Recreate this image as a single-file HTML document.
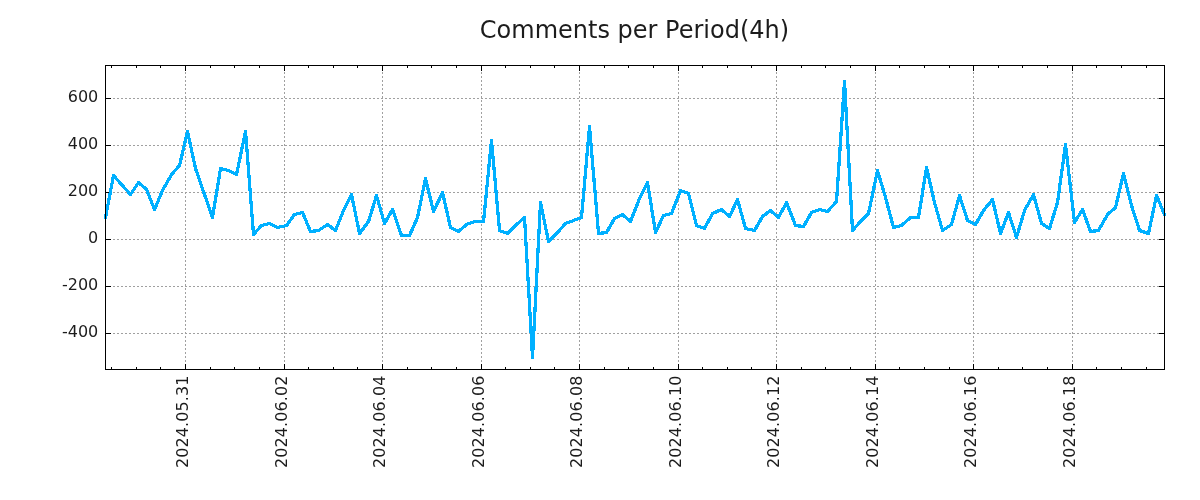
<!DOCTYPE html>
<html lang="en"><head><meta charset="utf-8"><title>Comments per Period(4h)</title>
<style>html,body{margin:0;padding:0;background:#fff}body{width:1200px;height:500px;overflow:hidden}svg{display:block}text{font-family:"DejaVu Sans","Liberation Sans",sans-serif;fill:#1c1c1c}.t{font-size:24px}.l{font-size:16px}</style></head><body>
<svg width="1200" height="500" viewBox="0 0 1200 500">
<rect width="1200" height="500" fill="#fff"/>
<g stroke="#a0a0a0" stroke-width="1" stroke-dasharray="2 2" shape-rendering="crispEdges" fill="none">
<line x1="105" y1="98.5" x2="1165" y2="98.5"/>
<line x1="105" y1="145.5" x2="1165" y2="145.5"/>
<line x1="105" y1="192.5" x2="1165" y2="192.5"/>
<line x1="105" y1="239.5" x2="1165" y2="239.5"/>
<line x1="105" y1="286.5" x2="1165" y2="286.5"/>
<line x1="105" y1="333.5" x2="1165" y2="333.5"/>
<line x1="185.5" y1="370" x2="185.5" y2="65"/>
<line x1="284.5" y1="370" x2="284.5" y2="65"/>
<line x1="382.5" y1="370" x2="382.5" y2="65"/>
<line x1="481.5" y1="370" x2="481.5" y2="65"/>
<line x1="579.5" y1="370" x2="579.5" y2="65"/>
<line x1="678.5" y1="370" x2="678.5" y2="65"/>
<line x1="776.5" y1="370" x2="776.5" y2="65"/>
<line x1="875.5" y1="370" x2="875.5" y2="65"/>
<line x1="973.5" y1="370" x2="973.5" y2="65"/>
<line x1="1072.5" y1="370" x2="1072.5" y2="65"/>
</g>
<g fill="#000" shape-rendering="crispEdges">
<rect x="185" y="364" width="1" height="5"/>
<rect x="185" y="66" width="1" height="5"/>
<rect x="284" y="364" width="1" height="5"/>
<rect x="284" y="66" width="1" height="5"/>
<rect x="382" y="364" width="1" height="5"/>
<rect x="382" y="66" width="1" height="5"/>
<rect x="481" y="364" width="1" height="5"/>
<rect x="481" y="66" width="1" height="5"/>
<rect x="579" y="364" width="1" height="5"/>
<rect x="579" y="66" width="1" height="5"/>
<rect x="678" y="364" width="1" height="5"/>
<rect x="678" y="66" width="1" height="5"/>
<rect x="776" y="364" width="1" height="5"/>
<rect x="776" y="66" width="1" height="5"/>
<rect x="875" y="364" width="1" height="5"/>
<rect x="875" y="66" width="1" height="5"/>
<rect x="973" y="364" width="1" height="5"/>
<rect x="973" y="66" width="1" height="5"/>
<rect x="1072" y="364" width="1" height="5"/>
<rect x="1072" y="66" width="1" height="5"/>
<rect x="111" y="367" width="1" height="2"/>
<rect x="111" y="66" width="1" height="2"/>
<rect x="136" y="367" width="1" height="2"/>
<rect x="136" y="66" width="1" height="2"/>
<rect x="160" y="367" width="1" height="2"/>
<rect x="160" y="66" width="1" height="2"/>
<rect x="210" y="367" width="1" height="2"/>
<rect x="210" y="66" width="1" height="2"/>
<rect x="234" y="367" width="1" height="2"/>
<rect x="234" y="66" width="1" height="2"/>
<rect x="259" y="367" width="1" height="2"/>
<rect x="259" y="66" width="1" height="2"/>
<rect x="308" y="367" width="1" height="2"/>
<rect x="308" y="66" width="1" height="2"/>
<rect x="333" y="367" width="1" height="2"/>
<rect x="333" y="66" width="1" height="2"/>
<rect x="357" y="367" width="1" height="2"/>
<rect x="357" y="66" width="1" height="2"/>
<rect x="407" y="367" width="1" height="2"/>
<rect x="407" y="66" width="1" height="2"/>
<rect x="431" y="367" width="1" height="2"/>
<rect x="431" y="66" width="1" height="2"/>
<rect x="456" y="367" width="1" height="2"/>
<rect x="456" y="66" width="1" height="2"/>
<rect x="505" y="367" width="1" height="2"/>
<rect x="505" y="66" width="1" height="2"/>
<rect x="530" y="367" width="1" height="2"/>
<rect x="530" y="66" width="1" height="2"/>
<rect x="554" y="367" width="1" height="2"/>
<rect x="554" y="66" width="1" height="2"/>
<rect x="604" y="367" width="1" height="2"/>
<rect x="604" y="66" width="1" height="2"/>
<rect x="628" y="367" width="1" height="2"/>
<rect x="628" y="66" width="1" height="2"/>
<rect x="653" y="367" width="1" height="2"/>
<rect x="653" y="66" width="1" height="2"/>
<rect x="702" y="367" width="1" height="2"/>
<rect x="702" y="66" width="1" height="2"/>
<rect x="727" y="367" width="1" height="2"/>
<rect x="727" y="66" width="1" height="2"/>
<rect x="751" y="367" width="1" height="2"/>
<rect x="751" y="66" width="1" height="2"/>
<rect x="801" y="367" width="1" height="2"/>
<rect x="801" y="66" width="1" height="2"/>
<rect x="825" y="367" width="1" height="2"/>
<rect x="825" y="66" width="1" height="2"/>
<rect x="850" y="367" width="1" height="2"/>
<rect x="850" y="66" width="1" height="2"/>
<rect x="899" y="367" width="1" height="2"/>
<rect x="899" y="66" width="1" height="2"/>
<rect x="924" y="367" width="1" height="2"/>
<rect x="924" y="66" width="1" height="2"/>
<rect x="949" y="367" width="1" height="2"/>
<rect x="949" y="66" width="1" height="2"/>
<rect x="998" y="367" width="1" height="2"/>
<rect x="998" y="66" width="1" height="2"/>
<rect x="1022" y="367" width="1" height="2"/>
<rect x="1022" y="66" width="1" height="2"/>
<rect x="1047" y="367" width="1" height="2"/>
<rect x="1047" y="66" width="1" height="2"/>
<rect x="1096" y="367" width="1" height="2"/>
<rect x="1096" y="66" width="1" height="2"/>
<rect x="1121" y="367" width="1" height="2"/>
<rect x="1121" y="66" width="1" height="2"/>
<rect x="1146" y="367" width="1" height="2"/>
<rect x="1146" y="66" width="1" height="2"/>
<rect x="106" y="98" width="5" height="1"/>
<rect x="1159" y="98" width="5" height="1"/>
<rect x="106" y="145" width="5" height="1"/>
<rect x="1159" y="145" width="5" height="1"/>
<rect x="106" y="192" width="5" height="1"/>
<rect x="1159" y="192" width="5" height="1"/>
<rect x="106" y="239" width="5" height="1"/>
<rect x="1159" y="239" width="5" height="1"/>
<rect x="106" y="286" width="5" height="1"/>
<rect x="1159" y="286" width="5" height="1"/>
<rect x="106" y="333" width="5" height="1"/>
<rect x="1159" y="333" width="5" height="1"/>
</g>
<g transform="translate(0,0.5)"><path fill="none" stroke="#00b0ff" stroke-width="1" shape-rendering="crispEdges" d="M843 80h3M843 81h3M843 82h3M843 83h3M843 84h3M843 85h3M843 86h3M842 87h4M842 88h5M842 89h5M842 90h5M842 91h5M842 92h5M842 93h5M842 94h5M842 95h5M842 96h5M842 97h5M842 98h5M842 99h5M842 100h5M842 101h5M841 102h6M841 103h6M841 104h6M841 105h6M841 106h6M841 107h7M841 108h7M841 109h7M841 110h7M841 111h7M841 112h3M845 112h3M841 113h3M845 113h3M841 114h3M845 114h3M841 115h3M845 115h3M841 116h3M845 116h3M840 117h4M845 117h3M840 118h4M845 118h3M840 119h4M845 119h3M840 120h4M845 120h3M840 121h3M845 121h3M840 122h3M845 122h3M840 123h3M845 123h3M840 124h3M845 124h3M588 125h3M840 125h3M845 125h3M588 126h3M840 126h3M845 126h4M588 127h3M840 127h3M845 127h4M588 128h3M840 128h3M845 128h4M588 129h3M840 129h3M845 129h4M186 130h3M244 130h3M588 130h3M840 130h3M846 130h3M186 131h3M244 131h3M587 131h5M840 131h3M846 131h3M186 132h3M244 132h3M587 132h5M839 132h4M846 132h3M185 133h5M243 133h4M587 133h5M839 133h4M846 133h3M185 134h5M243 134h4M587 134h5M839 134h4M846 134h3M185 135h5M243 135h4M587 135h5M839 135h4M846 135h3M185 136h5M243 136h5M587 136h5M839 136h3M846 136h3M184 137h6M243 137h5M587 137h5M839 137h3M846 137h3M184 138h7M242 138h6M587 138h5M839 138h3M846 138h3M184 139h3M188 139h3M242 139h6M490 139h3M587 139h5M839 139h3M846 139h3M184 140h3M188 140h3M242 140h6M490 140h3M587 140h5M839 140h3M846 140h3M183 141h4M188 141h3M242 141h6M490 141h3M587 141h5M839 141h3M846 141h3M183 142h4M188 142h4M242 142h6M490 142h3M586 142h6M839 142h3M846 142h3M183 143h3M188 143h4M241 143h7M490 143h3M586 143h7M839 143h3M846 143h3M1064 143h3M183 144h3M189 144h3M241 144h3M245 144h3M489 144h4M586 144h7M839 144h3M846 144h4M1064 144h3M183 145h3M189 145h3M241 145h3M245 145h3M489 145h5M586 145h7M839 145h3M846 145h4M1064 145h3M182 146h4M189 146h3M241 146h3M245 146h3M489 146h5M586 146h3M590 146h3M839 146h3M846 146h4M1064 146h3M182 147h3M189 147h4M240 147h4M245 147h3M489 147h5M586 147h3M590 147h3M838 147h4M846 147h4M1063 147h4M182 148h3M190 148h3M240 148h4M245 148h3M489 148h5M586 148h3M590 148h3M838 148h4M846 148h4M1063 148h5M182 149h3M190 149h3M240 149h3M245 149h4M489 149h5M586 149h3M590 149h3M838 149h4M847 149h3M1063 149h5M181 150h4M190 150h3M240 150h3M245 150h4M489 150h5M586 150h3M590 150h3M838 150h4M847 150h3M1063 150h5M181 151h3M190 151h3M240 151h3M245 151h4M489 151h5M586 151h3M590 151h3M838 151h3M847 151h3M1063 151h5M181 152h3M190 152h4M239 152h4M246 152h3M489 152h5M586 152h3M590 152h3M838 152h3M847 152h3M1063 152h5M181 153h3M191 153h3M239 153h4M246 153h3M489 153h5M585 153h4M590 153h3M838 153h3M847 153h3M1063 153h5M180 154h4M191 154h3M239 154h3M246 154h3M488 154h6M585 154h4M590 154h3M838 154h3M847 154h3M1062 154h6M180 155h4M191 155h3M239 155h3M246 155h3M488 155h6M585 155h4M590 155h4M838 155h3M847 155h3M1062 155h6M180 156h3M191 156h4M239 156h3M246 156h3M488 156h7M585 156h3M590 156h4M838 156h3M847 156h3M1062 156h7M180 157h3M191 157h4M238 157h4M246 157h3M488 157h7M585 157h3M590 157h4M838 157h3M847 157h3M1062 157h7M179 158h4M192 158h3M238 158h4M246 158h3M488 158h7M585 158h3M591 158h3M838 158h3M847 158h3M1062 158h7M179 159h4M192 159h3M238 159h3M246 159h3M488 159h3M492 159h3M585 159h3M591 159h3M838 159h3M847 159h3M1062 159h3M1066 159h3M179 160h3M192 160h3M238 160h3M246 160h3M488 160h3M492 160h3M585 160h3M591 160h3M838 160h3M847 160h3M1062 160h3M1066 160h3M179 161h3M192 161h4M238 161h3M246 161h3M488 161h3M492 161h3M585 161h3M591 161h3M838 161h3M847 161h3M1062 161h3M1066 161h3M179 162h3M193 162h3M237 162h4M246 162h4M488 162h3M492 162h3M585 162h3M591 162h3M837 162h4M847 162h3M1061 162h4M1066 162h3M178 163h4M193 163h3M237 163h3M246 163h4M488 163h3M492 163h3M585 163h3M591 163h3M837 163h4M847 163h4M1061 163h4M1066 163h3M178 164h3M193 164h3M237 164h3M246 164h4M487 164h4M492 164h3M585 164h3M591 164h3M837 164h4M847 164h4M1061 164h3M1066 164h3M177 165h4M193 165h4M237 165h3M247 165h3M487 165h4M492 165h3M584 165h4M591 165h3M837 165h4M847 165h4M1061 165h3M1066 165h4M176 166h5M193 166h4M237 166h3M247 166h3M487 166h4M492 166h3M584 166h4M591 166h3M837 166h3M847 166h4M925 166h3M1061 166h3M1066 166h4M176 167h4M194 167h3M219 167h4M236 167h4M247 167h3M487 167h3M492 167h4M584 167h4M591 167h4M837 167h3M847 167h4M925 167h3M1061 167h3M1067 167h3M175 168h4M194 168h3M219 168h8M236 168h3M247 168h3M487 168h3M492 168h4M584 168h3M591 168h4M837 168h3M848 168h3M925 168h3M1061 168h3M1067 168h3M174 169h4M194 169h4M219 169h11M236 169h3M247 169h3M487 169h3M492 169h4M584 169h3M591 169h4M837 169h3M848 169h3M876 169h3M925 169h4M1060 169h4M1067 169h3M173 170h4M194 170h4M219 170h13M236 170h3M247 170h3M487 170h3M493 170h3M584 170h3M592 170h3M837 170h3M848 170h3M876 170h3M924 170h5M1060 170h4M1067 170h3M172 171h4M195 171h3M218 171h4M226 171h8M235 171h4M247 171h3M487 171h3M493 171h3M584 171h3M592 171h3M837 171h3M848 171h3M876 171h3M924 171h5M1060 171h3M1067 171h3M171 172h4M195 172h4M218 172h3M229 172h10M247 172h3M487 172h3M493 172h3M584 172h3M592 172h3M837 172h3M848 172h3M875 172h5M924 172h5M1060 172h3M1067 172h3M1122 172h3M170 173h5M196 173h3M218 173h3M231 173h7M247 173h3M487 173h3M493 173h3M584 173h3M592 173h3M837 173h3M848 173h3M875 173h5M924 173h6M1060 173h3M1067 173h3M1122 173h3M112 174h3M170 174h4M196 174h3M218 174h3M233 174h5M247 174h3M487 174h3M493 174h3M584 174h3M592 174h3M837 174h3M848 174h3M875 174h5M924 174h6M1060 174h3M1067 174h4M1122 174h3M112 175h4M169 175h4M196 175h4M218 175h3M235 175h3M247 175h4M486 175h4M493 175h3M584 175h3M592 175h3M837 175h3M848 175h3M875 175h6M924 175h6M1060 175h3M1067 175h4M1121 175h5M112 176h5M169 176h3M197 176h3M218 176h3M247 176h4M486 176h4M493 176h3M583 176h4M592 176h3M837 176h3M848 176h3M875 176h6M923 176h7M1059 176h4M1068 176h3M1121 176h5M111 177h6M168 177h4M197 177h3M217 177h4M247 177h4M424 177h3M486 177h3M493 177h3M583 177h4M592 177h3M836 177h4M848 177h3M874 177h7M923 177h7M1059 177h4M1068 177h3M1121 177h5M111 178h7M167 178h4M197 178h4M217 178h4M248 178h3M424 178h3M486 178h3M493 178h4M583 178h4M592 178h4M836 178h4M848 178h3M874 178h3M878 178h4M923 178h3M927 178h4M1059 178h3M1068 178h3M1121 178h5M111 179h3M115 179h4M167 179h4M198 179h3M217 179h3M248 179h3M424 179h3M486 179h3M493 179h4M583 179h3M592 179h4M836 179h4M848 179h3M874 179h3M878 179h4M923 179h3M928 179h3M1059 179h3M1068 179h3M1120 179h7M111 180h3M116 180h4M166 180h4M198 180h3M217 180h3M248 180h3M423 180h5M486 180h3M493 180h4M583 180h3M592 180h4M836 180h4M848 180h3M874 180h3M879 180h3M923 180h3M928 180h3M1059 180h3M1068 180h3M1120 180h7M111 181h3M117 181h4M137 181h3M166 181h3M198 181h4M217 181h3M248 181h3M423 181h5M486 181h3M494 181h3M583 181h3M592 181h4M646 181h3M836 181h3M848 181h3M874 181h3M879 181h3M923 181h3M928 181h3M1059 181h3M1068 181h3M1120 181h3M1124 181h3M111 182h3M118 182h4M137 182h4M165 182h4M199 182h3M217 182h3M248 182h3M423 182h5M486 182h3M494 182h3M583 182h3M593 182h3M646 182h3M836 182h3M848 182h4M873 182h4M879 182h4M922 182h4M928 182h4M1059 182h3M1068 182h4M1120 182h3M1124 182h3M110 183h4M118 183h5M136 183h6M165 183h3M199 183h3M216 183h4M248 183h3M423 183h5M486 183h3M494 183h3M583 183h3M593 183h3M645 183h4M836 183h3M848 183h4M873 183h3M880 183h3M922 183h4M928 183h4M1058 183h4M1068 183h4M1119 183h4M1124 183h4M110 184h3M119 184h5M135 184h8M164 184h4M199 184h4M216 184h4M248 184h3M423 184h6M486 184h3M494 184h3M583 184h3M593 184h3M645 184h4M836 184h3M848 184h4M873 184h3M880 184h3M922 184h3M929 184h3M1058 184h4M1068 184h4M1119 184h4M1125 184h3M110 185h3M120 185h5M135 185h3M139 185h5M163 185h4M200 185h3M216 185h3M248 185h3M422 185h7M485 185h4M494 185h3M583 185h3M593 185h3M644 185h6M836 185h3M848 185h4M873 185h3M880 185h4M922 185h3M929 185h3M1058 185h3M1069 185h3M1119 185h3M1125 185h3M110 186h3M121 186h4M134 186h4M141 186h5M163 186h4M200 186h3M216 186h3M248 186h3M422 186h7M485 186h4M494 186h3M583 186h3M593 186h3M644 186h6M836 186h3M849 186h3M872 186h4M881 186h3M922 186h3M929 186h4M1058 186h3M1069 186h3M1119 186h3M1125 186h3M110 187h3M122 187h4M133 187h4M142 187h5M162 187h4M200 187h4M216 187h3M248 187h3M422 187h3M426 187h3M485 187h3M494 187h3M583 187h3M593 187h3M643 187h7M836 187h3M849 187h3M872 187h4M881 187h3M922 187h3M929 187h4M1058 187h3M1069 187h3M1119 187h3M1125 187h4M109 188h4M123 188h4M133 188h3M143 188h5M162 188h3M201 188h3M216 188h3M248 188h4M422 188h3M426 188h4M485 188h3M494 188h3M582 188h4M593 188h3M643 188h3M647 188h3M836 188h3M849 188h3M872 188h3M881 188h4M921 188h4M930 188h3M1058 188h3M1069 188h3M1118 188h4M1126 188h3M109 189h3M124 189h4M132 189h4M144 189h4M161 189h4M201 189h3M215 189h4M248 189h4M422 189h3M426 189h4M485 189h3M494 189h3M582 189h4M593 189h3M642 189h4M647 189h3M679 189h3M836 189h3M849 189h3M872 189h3M881 189h4M921 189h4M930 189h3M1058 189h3M1069 189h3M1118 189h3M1126 189h3M109 190h3M125 190h4M131 190h4M145 190h4M161 190h3M201 190h4M215 190h4M248 190h4M421 190h4M427 190h3M485 190h3M494 190h4M582 190h4M593 190h4M642 190h3M647 190h3M679 190h6M836 190h3M849 190h3M872 190h3M882 190h3M921 190h3M930 190h3M1058 190h3M1069 190h3M1118 190h3M1126 190h3M109 191h3M126 191h4M131 191h3M146 191h3M160 191h4M202 191h3M215 191h3M249 191h3M421 191h3M427 191h3M441 191h3M485 191h3M494 191h4M582 191h3M593 191h4M641 191h4M647 191h4M678 191h10M836 191h3M849 191h3M871 191h4M882 191h3M921 191h3M930 191h4M1057 191h4M1069 191h4M1118 191h3M1126 191h4M109 192h3M127 192h7M146 192h3M160 192h3M202 192h4M215 192h3M249 192h3M421 192h3M427 192h4M441 192h3M485 192h3M494 192h4M582 192h3M593 192h4M641 192h3M647 192h4M678 192h12M835 192h4M849 192h3M871 192h4M882 192h4M921 192h3M931 192h3M1057 192h4M1069 192h4M1117 192h4M1127 192h3M108 193h4M127 193h6M146 193h4M159 193h4M202 193h4M215 193h3M249 193h3M350 193h3M421 193h3M427 193h4M440 193h4M485 193h3M495 193h3M582 193h3M594 193h3M640 193h4M648 193h3M678 193h3M684 193h6M835 193h4M849 193h3M871 193h3M883 193h3M921 193h3M931 193h3M1032 193h3M1057 193h3M1070 193h3M1117 193h3M1127 193h3M108 194h4M128 194h4M147 194h3M159 194h4M203 194h3M215 194h3M249 194h3M350 194h3M375 194h3M421 194h3M428 194h3M440 194h5M485 194h3M495 194h3M582 194h3M594 194h3M640 194h3M648 194h3M677 194h4M687 194h3M835 194h4M849 194h3M871 194h3M883 194h3M921 194h3M931 194h3M958 194h3M1032 194h3M1057 194h3M1070 194h3M1117 194h3M1127 194h3M1155 194h3M108 195h3M129 195h3M147 195h4M159 195h3M203 195h4M214 195h4M249 195h3M349 195h4M375 195h3M420 195h4M428 195h3M439 195h6M484 195h4M495 195h3M582 195h3M594 195h3M639 195h4M648 195h3M677 195h3M687 195h4M835 195h4M849 195h3M871 195h3M883 195h4M920 195h4M931 195h4M958 195h3M1031 195h4M1057 195h3M1070 195h3M1117 195h3M1127 195h4M1155 195h3M108 196h3M148 196h3M158 196h4M203 196h4M214 196h4M249 196h3M349 196h5M374 196h4M420 196h3M428 196h4M439 196h6M484 196h4M495 196h3M582 196h3M594 196h3M639 196h3M648 196h3M676 196h4M688 196h3M835 196h3M849 196h3M870 196h4M884 196h3M920 196h4M931 196h4M958 196h4M1031 196h5M1057 196h3M1070 196h3M1116 196h4M1128 196h3M1155 196h4M108 197h3M148 197h3M158 197h3M204 197h3M214 197h3M249 197h3M348 197h6M374 197h5M420 197h3M428 197h4M438 197h7M484 197h4M495 197h3M582 197h3M594 197h3M638 197h4M648 197h4M676 197h4M688 197h3M835 197h3M849 197h3M870 197h4M884 197h3M920 197h3M932 197h3M957 197h5M1030 197h6M1057 197h3M1070 197h3M1116 197h4M1128 197h3M1154 197h5M107 198h4M148 198h4M157 198h4M204 198h4M214 198h3M249 198h3M348 198h6M374 198h5M420 198h3M429 198h3M438 198h3M442 198h4M484 198h3M495 198h3M582 198h3M594 198h3M638 198h3M648 198h4M676 198h3M688 198h3M736 198h3M835 198h3M849 198h3M870 198h3M884 198h3M920 198h3M932 198h3M957 198h5M991 198h3M1029 198h7M1056 198h4M1070 198h3M1116 198h3M1128 198h3M1154 198h6M107 199h4M149 199h3M157 199h3M205 199h3M214 199h3M249 199h3M347 199h7M374 199h5M420 199h3M429 199h3M437 199h4M442 199h4M484 199h3M495 199h3M581 199h4M594 199h3M637 199h4M649 199h3M675 199h4M688 199h4M736 199h3M835 199h3M849 199h3M870 199h3M884 199h4M920 199h3M932 199h3M957 199h5M990 199h4M1029 199h8M1056 199h4M1070 199h3M1116 199h3M1128 199h4M1154 199h6M107 200h3M149 200h4M157 200h3M205 200h3M214 200h3M249 200h3M347 200h3M351 200h3M373 200h7M419 200h4M429 200h4M437 200h4M443 200h3M484 200h3M495 200h3M581 200h4M594 200h3M637 200h3M649 200h3M675 200h3M689 200h3M735 200h4M835 200h3M849 200h4M870 200h3M885 200h3M920 200h3M932 200h4M956 200h7M990 200h4M1028 200h4M1033 200h4M1056 200h3M1070 200h4M1115 200h4M1129 200h3M1154 200h6M107 201h3M150 201h3M156 201h4M205 201h4M213 201h4M249 201h4M346 201h4M351 201h4M373 201h3M377 201h3M419 201h3M429 201h4M436 201h4M443 201h3M484 201h3M495 201h4M539 201h3M581 201h4M594 201h3M637 201h3M649 201h3M674 201h4M689 201h3M735 201h5M785 201h3M834 201h4M849 201h4M869 201h4M885 201h3M919 201h4M933 201h3M956 201h7M989 201h6M1028 201h3M1034 201h3M1056 201h3M1070 201h4M1115 201h4M1129 201h3M1154 201h7M107 202h3M150 202h3M156 202h3M206 202h3M213 202h4M249 202h4M346 202h3M351 202h4M373 202h3M377 202h3M419 202h3M430 202h3M436 202h4M443 202h3M484 202h3M495 202h4M539 202h3M581 202h3M594 202h4M636 202h4M649 202h3M674 202h4M689 202h3M734 202h6M785 202h3M833 202h5M849 202h4M869 202h3M885 202h4M919 202h4M933 202h3M956 202h3M960 202h3M988 202h7M1027 202h4M1034 202h3M1056 202h3M1071 202h3M1115 202h3M1129 202h3M1153 202h4M1158 202h3M107 203h3M150 203h4M155 203h4M206 203h3M213 203h3M249 203h4M345 203h4M352 203h3M372 203h4M377 203h3M419 203h3M430 203h3M435 203h4M443 203h4M484 203h3M495 203h4M539 203h3M581 203h3M594 203h4M636 203h3M649 203h4M674 203h3M689 203h4M734 203h6M784 203h5M833 203h4M849 203h4M869 203h3M885 203h4M919 203h3M933 203h3M956 203h3M960 203h4M987 203h4M992 203h3M1027 203h3M1034 203h4M1055 203h4M1071 203h3M1115 203h3M1129 203h4M1153 203h3M1158 203h4M106 204h4M151 204h3M155 204h3M206 204h4M213 204h3M250 204h3M345 204h3M352 204h3M372 204h3M377 204h4M419 204h3M430 204h3M435 204h4M444 204h3M484 204h3M496 204h3M539 204h4M581 204h3M594 204h4M635 204h4M649 204h4M673 204h4M690 204h3M733 204h8M784 204h5M832 204h4M849 204h4M869 204h3M886 204h3M919 204h3M933 204h4M955 204h4M961 204h3M986 204h5M992 204h3M1026 204h4M1035 204h3M1055 204h4M1071 204h3M1115 204h3M1130 204h3M1153 204h3M1159 204h3M106 205h3M151 205h7M207 205h3M213 205h3M250 205h3M344 205h4M352 205h3M372 205h3M378 205h3M418 205h4M430 205h4M435 205h3M444 205h3M483 205h4M496 205h3M539 205h4M581 205h3M595 205h3M635 205h4M650 205h3M673 205h3M690 205h3M733 205h3M737 205h4M783 205h6M831 205h4M850 205h3M869 205h3M886 205h3M919 205h3M934 205h3M955 205h3M961 205h3M985 205h5M992 205h4M1025 205h4M1035 205h3M1055 205h3M1071 205h3M1114 205h4M1130 205h3M1153 205h3M1159 205h3M106 206h3M152 206h6M207 206h3M213 206h3M250 206h3M344 206h3M352 206h4M371 206h4M378 206h3M418 206h3M431 206h7M444 206h3M483 206h4M496 206h3M539 206h4M581 206h3M595 206h3M635 206h3M650 206h3M672 206h4M690 206h3M732 206h4M738 206h3M783 206h7M830 206h4M850 206h3M868 206h4M886 206h4M919 206h3M934 206h3M955 206h3M961 206h4M985 206h4M992 206h4M1025 206h4M1035 206h3M1055 206h3M1071 206h3M1114 206h3M1130 206h4M1153 206h3M1159 206h4M106 207h3M152 207h5M207 207h4M212 207h4M250 207h3M343 207h4M353 207h3M371 207h4M378 207h4M418 207h3M431 207h6M444 207h4M483 207h4M496 207h3M539 207h4M581 207h3M595 207h3M634 207h4M650 207h3M672 207h4M690 207h4M732 207h4M738 207h3M782 207h4M787 207h3M829 207h4M850 207h3M868 207h3M886 207h4M918 207h4M934 207h4M955 207h3M962 207h3M984 207h4M993 207h3M1024 207h4M1035 207h4M1054 207h4M1071 207h3M1113 207h4M1130 207h4M1152 207h4M1160 207h3M106 208h3M152 208h5M208 208h3M212 208h4M250 208h3M343 208h3M353 208h3M371 208h3M379 208h3M391 208h3M418 208h3M431 208h6M444 208h4M483 208h3M496 208h3M539 208h4M581 208h3M595 208h3M634 208h3M650 208h3M672 208h3M691 208h3M720 208h3M731 208h4M738 208h4M781 208h4M787 208h4M818 208h4M828 208h4M850 208h3M868 208h3M887 208h3M918 208h4M935 208h3M954 208h4M962 208h3M983 208h4M993 208h3M1024 208h3M1036 208h3M1054 208h3M1071 208h4M1081 208h3M1112 208h5M1131 208h3M1152 208h3M1160 208h4M105 209h4M153 209h3M208 209h3M212 209h3M250 209h3M342 209h4M353 209h3M370 209h4M379 209h3M391 209h3M417 209h4M431 209h5M445 209h3M483 209h3M496 209h3M539 209h5M581 209h3M595 209h3M633 209h4M650 209h3M671 209h4M691 209h3M717 209h7M731 209h4M739 209h3M769 209h3M781 209h4M787 209h4M815 209h11M827 209h4M850 209h3M868 209h3M887 209h3M918 209h3M935 209h3M954 209h3M962 209h4M982 209h4M993 209h4M1023 209h4M1036 209h3M1054 209h3M1071 209h4M1081 209h3M1111 209h5M1131 209h3M1152 209h3M1161 209h3M105 210h3M153 210h3M208 210h7M250 210h3M342 210h3M353 210h3M370 210h4M379 210h3M390 210h5M417 210h4M432 210h4M445 210h3M483 210h3M496 210h3M538 210h6M580 210h4M595 210h3M633 210h4M650 210h4M671 210h3M691 210h3M715 210h10M731 210h3M739 210h3M768 210h5M780 210h4M788 210h3M812 210h19M850 210h3M867 210h4M887 210h4M918 210h3M935 210h3M954 210h3M963 210h3M982 210h4M993 210h4M1023 210h3M1036 210h4M1053 210h4M1071 210h4M1080 210h5M1110 210h5M1131 210h4M1152 210h3M1161 210h4M105 211h3M209 211h6M250 211h3M300 211h4M341 211h4M353 211h4M370 211h3M379 211h4M389 211h6M417 211h3M432 211h3M445 211h4M483 211h3M496 211h3M538 211h6M580 211h4M595 211h3M633 211h3M650 211h4M671 211h3M691 211h4M713 211h13M730 211h4M739 211h3M766 211h8M780 211h4M788 211h4M810 211h9M821 211h9M850 211h3M867 211h4M888 211h3M918 211h3M935 211h4M953 211h4M963 211h3M981 211h4M994 211h3M1007 211h3M1023 211h3M1037 211h3M1053 211h3M1072 211h3M1079 211h6M1108 211h5M1132 211h3M1151 211h4M1161 211h4M105 212h3M209 212h6M250 212h3M296 212h8M341 212h3M354 212h3M370 212h3M380 212h3M389 212h6M417 212h3M432 212h3M445 212h4M483 212h3M496 212h4M538 212h6M580 212h4M595 212h3M632 212h4M651 212h3M669 212h5M692 212h3M711 212h8M722 212h5M730 212h3M739 212h4M765 212h10M779 212h4M789 212h3M810 212h6M825 212h4M850 212h3M867 212h3M888 212h3M918 212h3M936 212h3M953 212h3M963 212h4M980 212h4M994 212h3M1007 212h3M1022 212h4M1037 212h3M1053 212h3M1072 212h3M1079 212h6M1107 212h5M1132 212h3M1151 212h4M1162 212h3M105 213h3M209 213h6M250 213h3M293 213h12M341 213h3M354 213h3M369 213h4M380 213h3M388 213h8M417 213h3M446 213h3M483 213h3M496 213h4M538 213h6M580 213h3M595 213h3M621 213h3M632 213h3M651 213h3M665 213h8M692 213h3M711 213h6M724 213h9M740 213h3M764 213h5M771 213h5M779 213h3M789 213h4M809 213h4M850 213h3M866 213h4M888 213h3M917 213h4M936 213h3M953 213h3M964 213h3M980 213h4M994 213h3M1006 213h5M1022 213h3M1037 213h3M1052 213h4M1072 213h3M1078 213h8M1106 213h5M1132 213h4M1151 213h3M1162 213h4M104 214h4M210 214h5M250 214h4M292 214h9M302 214h3M340 214h4M354 214h3M369 214h3M380 214h4M388 214h4M393 214h3M416 214h4M446 214h3M483 214h3M496 214h4M538 214h7M580 214h3M595 214h4M619 214h6M631 214h4M651 214h3M662 214h11M692 214h3M710 214h4M725 214h7M740 214h3M762 214h6M773 214h9M789 214h4M808 214h4M850 214h3M865 214h5M888 214h4M917 214h4M936 214h4M953 214h3M964 214h3M979 214h4M994 214h4M1006 214h5M1022 214h3M1037 214h4M1052 214h4M1072 214h3M1078 214h3M1083 214h3M1106 214h4M1133 214h3M1151 214h3M1163 214h3M104 215h4M210 215h4M250 215h4M292 215h5M302 215h4M340 215h3M354 215h3M369 215h3M381 215h3M387 215h4M393 215h3M416 215h4M446 215h3M482 215h4M497 215h3M538 215h3M542 215h3M580 215h3M595 215h4M617 215h9M631 215h4M651 215h3M662 215h8M692 215h4M710 215h3M726 215h6M740 215h4M761 215h6M774 215h7M790 215h3M808 215h4M850 215h3M864 215h5M889 215h3M917 215h3M937 215h3M952 215h4M964 215h4M979 215h4M995 215h3M1006 215h5M1021 215h4M1038 215h3M1052 215h3M1072 215h3M1077 215h4M1083 215h3M1105 215h4M1133 215h3M1151 215h3M1163 215h3M104 216h3M210 216h4M250 216h4M291 216h4M302 216h4M339 216h4M354 216h4M368 216h4M381 216h3M387 216h3M393 216h4M416 216h3M446 216h4M482 216h4M497 216h3M523 216h3M538 216h3M542 216h3M580 216h3M595 216h4M615 216h12M631 216h3M651 216h4M661 216h5M693 216h3M709 216h4M727 216h4M741 216h3M761 216h4M775 216h6M790 216h4M807 216h4M850 216h3M863 216h5M889 216h3M909 216h11M937 216h3M952 216h3M965 216h3M978 216h4M995 216h3M1005 216h6M1021 216h3M1038 216h3M1051 216h4M1072 216h3M1076 216h4M1083 216h4M1105 216h3M1133 216h4M1150 216h4M104 217h3M211 217h3M251 217h3M290 217h4M303 217h3M339 217h3M355 217h3M368 217h3M381 217h3M386 217h4M394 217h3M416 217h3M447 217h3M482 217h4M497 217h3M522 217h4M538 217h3M542 217h3M577 217h6M596 217h3M613 217h7M623 217h5M630 217h4M651 217h4M661 217h3M693 217h3M709 217h3M728 217h3M741 217h3M760 217h4M776 217h4M791 217h3M807 217h4M850 217h3M862 217h5M889 217h4M908 217h12M937 217h3M952 217h3M965 217h3M978 217h3M995 217h3M1005 217h7M1021 217h3M1038 217h4M1051 217h4M1072 217h7M1084 217h3M1104 217h4M1134 217h3M1150 217h4M104 218h3M211 218h3M251 218h3M290 218h4M303 218h4M339 218h3M355 218h3M368 218h3M381 218h8M394 218h3M415 218h4M447 218h3M482 218h3M497 218h3M521 218h5M538 218h3M542 218h3M574 218h9M596 218h3M613 218h5M625 218h8M652 218h3M660 218h4M693 218h3M708 218h4M741 218h3M759 218h4M777 218h3M791 218h4M806 218h4M850 218h3M861 218h5M889 218h4M907 218h13M937 218h4M951 218h4M965 218h4M977 218h4M995 218h4M1004 218h4M1009 218h3M1020 218h4M1038 218h4M1051 218h3M1072 218h7M1084 218h4M1103 218h4M1134 218h3M1150 218h3M251 219h3M289 219h4M304 219h3M338 219h4M355 219h3M367 219h4M382 219h7M394 219h4M415 219h3M447 219h3M482 219h3M497 219h3M520 219h6M538 219h3M542 219h4M572 219h9M596 219h3M612 219h4M626 219h7M652 219h3M660 219h3M693 219h4M707 219h4M741 219h4M759 219h4M791 219h4M806 219h3M850 219h4M860 219h5M890 219h3M906 219h5M938 219h3M951 219h4M965 219h4M976 219h4M996 219h3M1004 219h4M1009 219h3M1020 219h4M1039 219h3M1051 219h3M1073 219h5M1084 219h4M1103 219h4M1134 219h4M1150 219h3M251 220h3M288 220h4M304 220h4M338 220h3M355 220h3M367 220h4M382 220h6M395 220h3M414 220h4M447 220h4M473 220h12M497 220h3M519 220h7M538 220h3M543 220h3M569 220h9M596 220h3M611 220h4M627 220h6M652 220h3M659 220h4M694 220h3M707 220h4M742 220h3M758 220h4M792 220h3M805 220h4M850 220h4M859 220h5M890 220h3M905 220h5M938 220h3M951 220h3M966 220h5M976 220h4M996 220h3M1004 220h3M1009 220h4M1020 220h3M1039 220h3M1050 220h4M1073 220h5M1085 220h3M1102 220h4M1135 220h3M1150 220h3M251 221h3M287 221h4M305 221h3M337 221h4M355 221h4M366 221h4M382 221h6M395 221h3M414 221h4M447 221h4M470 221h15M497 221h3M518 221h4M523 221h3M538 221h3M543 221h3M566 221h9M596 221h3M611 221h4M628 221h4M652 221h3M659 221h3M694 221h3M706 221h4M742 221h3M758 221h4M792 221h4M804 221h4M850 221h4M858 221h5M890 221h4M904 221h4M938 221h4M951 221h3M966 221h7M975 221h4M996 221h3M1003 221h4M1010 221h3M1020 221h3M1039 221h4M1050 221h3M1073 221h4M1085 221h4M1102 221h3M1135 221h3M1149 221h4M251 222h3M267 222h4M287 222h4M305 222h3M337 222h3M356 222h3M366 222h4M383 222h4M395 222h4M413 222h4M448 222h3M467 222h18M497 222h3M516 222h5M523 222h3M538 222h3M543 222h3M564 222h9M596 222h3M610 222h4M629 222h3M652 222h4M658 222h4M694 222h3M706 222h4M742 222h4M757 222h4M793 222h3M804 222h4M850 222h4M857 222h5M890 222h4M902 222h5M939 222h3M950 222h4M968 222h11M996 222h4M1003 222h3M1010 222h3M1019 222h4M1040 222h3M1050 222h3M1073 222h3M1085 222h4M1101 222h4M1135 222h4M1149 222h3M251 223h3M263 223h10M286 223h4M305 223h4M326 223h3M337 223h3M356 223h3M365 223h4M383 223h3M396 223h3M413 223h4M448 223h3M465 223h9M497 223h4M515 223h5M523 223h3M538 223h3M543 223h3M563 223h7M596 223h3M610 223h4M652 223h4M658 223h4M694 223h4M705 223h4M742 223h4M757 223h3M793 223h3M803 223h4M850 223h4M857 223h4M891 223h3M901 223h5M939 223h3M950 223h3M970 223h8M996 223h4M1003 223h3M1010 223h4M1019 223h3M1040 223h5M1049 223h4M1073 223h3M1086 223h3M1101 223h3M1136 223h3M1149 223h3M251 224h3M260 224h15M284 224h5M306 224h3M325 224h5M336 224h4M356 224h3M364 224h4M383 224h3M396 224h3M413 224h3M448 224h3M464 224h7M497 224h4M514 224h5M523 224h4M538 224h3M543 224h4M562 224h5M596 224h3M609 224h4M653 224h3M657 224h4M695 224h3M705 224h3M743 224h3M756 224h4M793 224h8M803 224h4M851 224h3M856 224h4M891 224h3M899 224h6M939 224h3M949 224h4M972 224h5M997 224h3M1002 224h4M1011 224h3M1019 224h3M1040 224h6M1049 224h3M1086 224h4M1100 224h4M1136 224h3M1149 224h3M251 225h3M259 225h9M270 225h7M279 225h10M306 225h4M323 225h9M336 225h3M356 225h4M363 225h5M396 225h4M412 225h4M448 225h4M463 225h5M497 225h4M513 225h5M523 225h4M538 225h3M544 225h3M562 225h4M596 225h3M609 225h3M653 225h3M657 225h4M695 225h6M704 225h4M743 225h3M755 225h4M794 225h12M851 225h3M855 225h4M891 225h13M939 225h4M947 225h6M974 225h3M997 225h3M1002 225h3M1011 225h3M1018 225h4M1042 225h6M1049 225h3M1087 225h3M1099 225h4M1136 225h4M1149 225h3M251 226h4M258 226h6M272 226h16M307 226h3M322 226h11M335 226h4M356 226h4M363 226h4M397 226h3M412 226h3M449 226h3M462 226h5M498 226h3M512 226h5M523 226h4M538 226h3M544 226h3M561 226h4M596 226h4M608 226h4M653 226h3M657 226h3M695 226h12M743 226h4M755 226h4M794 226h11M851 226h7M892 226h11M940 226h3M946 226h5M997 226h8M1011 226h4M1018 226h3M1043 226h9M1087 226h3M1099 226h4M1137 226h3M1148 226h4M251 227h4M258 227h4M274 227h11M307 227h4M320 227h6M329 227h5M335 227h3M357 227h3M362 227h4M397 227h3M411 227h4M449 227h5M461 227h5M498 227h3M511 227h5M523 227h4M538 227h3M544 227h3M560 227h4M596 227h4M607 227h4M653 227h7M697 227h10M744 227h4M754 227h4M798 227h7M851 227h6M892 227h8M940 227h3M944 227h6M997 227h8M1012 227h3M1018 227h3M1045 227h7M1087 227h4M1098 227h4M1137 227h3M1148 227h3M251 228h4M257 228h4M276 228h4M307 228h4M319 228h5M330 228h8M357 228h3M361 228h4M397 228h4M411 228h3M449 228h7M459 228h5M498 228h3M510 228h5M524 228h3M538 228h3M544 228h3M559 228h4M596 228h4M607 228h4M653 228h6M700 228h6M744 228h9M754 228h4M851 228h5M892 228h4M940 228h8M998 228h6M1012 228h3M1017 228h4M1046 228h5M1088 228h3M1098 228h3M1137 228h4M1148 228h3M251 229h4M256 229h4M308 229h3M313 229h10M331 229h7M357 229h8M398 229h3M410 229h4M451 229h12M498 229h3M509 229h5M524 229h3M537 229h4M544 229h4M558 229h4M597 229h3M606 229h4M653 229h6M703 229h3M744 229h13M851 229h5M941 229h6M998 229h6M1012 229h4M1017 229h4M1048 229h3M1088 229h4M1093 229h8M1137 229h5M1148 229h3M252 230h7M308 230h13M333 230h4M357 230h7M398 230h3M410 230h4M453 230h9M498 230h6M508 230h5M524 230h3M537 230h4M545 230h3M557 230h4M597 230h3M606 230h4M654 230h4M747 230h9M851 230h4M941 230h4M998 230h5M1013 230h3M1017 230h3M1088 230h12M1138 230h7M1147 230h4M252 231h6M309 231h11M334 231h3M357 231h6M398 231h4M409 231h4M455 231h6M498 231h14M524 231h3M537 231h4M545 231h3M556 231h5M597 231h3M601 231h8M654 231h4M752 231h4M851 231h3M941 231h3M998 231h5M1013 231h3M1017 231h3M1089 231h11M1138 231h13M252 232h5M309 232h7M358 232h4M399 232h3M409 232h4M457 232h3M500 232h11M524 232h3M537 232h4M545 232h3M555 232h5M597 232h11M654 232h3M999 232h4M1013 232h7M1089 232h7M1140 232h10M252 233h5M358 233h4M399 233h4M409 233h3M503 233h7M524 233h3M537 233h4M545 233h4M554 233h5M597 233h11M654 233h3M999 233h3M1014 233h5M1143 233h7M252 234h4M358 234h3M399 234h13M506 234h3M524 234h3M537 234h3M545 234h4M553 234h5M597 234h7M999 234h3M1014 234h5M1146 234h4M252 235h3M400 235h11M524 235h3M537 235h3M546 235h3M552 235h5M1014 235h5M400 236h11M524 236h3M537 236h3M546 236h3M551 236h5M1014 236h4M524 237h3M537 237h3M546 237h3M550 237h5M1015 237h3M524 238h3M537 238h3M546 238h8M1015 238h3M524 239h3M537 239h3M546 239h7M524 240h3M537 240h3M547 240h5M524 241h3M537 241h3M547 241h4M524 242h4M537 242h3M547 242h3M524 243h4M537 243h3M524 244h4M537 244h3M524 245h4M537 245h3M525 246h3M537 246h3M525 247h3M537 247h3M525 248h3M536 248h4M525 249h3M536 249h4M525 250h3M536 250h4M525 251h3M536 251h4M525 252h3M536 252h4M525 253h3M536 253h3M525 254h3M536 254h3M525 255h3M536 255h3M525 256h3M536 256h3M525 257h3M536 257h3M525 258h3M536 258h3M525 259h4M536 259h3M525 260h4M536 260h3M525 261h4M536 261h3M525 262h4M536 262h3M526 263h3M536 263h3M526 264h3M536 264h3M526 265h3M536 265h3M526 266h3M536 266h3M526 267h3M536 267h3M526 268h3M535 268h4M526 269h3M535 269h4M526 270h3M535 270h4M526 271h3M535 271h4M526 272h3M535 272h4M526 273h3M535 273h3M526 274h3M535 274h3M526 275h3M535 275h3M526 276h3M535 276h3M526 277h4M535 277h3M526 278h4M535 278h3M526 279h4M535 279h3M526 280h4M535 280h3M527 281h3M535 281h3M527 282h3M535 282h3M527 283h3M535 283h3M527 284h3M535 284h3M527 285h3M535 285h3M527 286h3M535 286h3M527 287h3M534 287h4M527 288h3M534 288h4M527 289h3M534 289h4M527 290h3M534 290h4M527 291h3M534 291h4M527 292h3M534 292h3M527 293h3M534 293h3M527 294h4M534 294h3M527 295h4M534 295h3M527 296h4M534 296h3M527 297h4M534 297h3M528 298h3M534 298h3M528 299h3M534 299h3M528 300h3M534 300h3M528 301h3M534 301h3M528 302h3M534 302h3M528 303h3M534 303h3M528 304h3M534 304h3M528 305h3M534 305h3M528 306h3M534 306h3M528 307h3M533 307h4M528 308h3M533 308h4M528 309h3M533 309h4M528 310h3M533 310h4M528 311h3M533 311h4M528 312h4M533 312h3M528 313h4M533 313h3M528 314h4M533 314h3M528 315h4M533 315h3M529 316h3M533 316h3M529 317h3M533 317h3M529 318h3M533 318h3M529 319h3M533 319h3M529 320h3M533 320h3M529 321h3M533 321h3M529 322h3M533 322h3M529 323h3M533 323h3M529 324h3M533 324h3M529 325h3M533 325h3M529 326h7M529 327h7M529 328h7M529 329h7M529 330h7M529 331h6M529 332h6M530 333h5M530 334h5M530 335h5M530 336h5M530 337h5M530 338h5M530 339h5M530 340h5M530 341h5M530 342h5M530 343h5M530 344h5M530 345h5M530 346h5M530 347h5M530 348h5M530 349h5M530 350h4M531 351h3M531 352h3M531 353h3M531 354h3M531 355h3M531 356h3M531 357h3M531 358h3"/></g>
<g fill="#000" shape-rendering="crispEdges">
<rect x="105" y="65" width="1060" height="1"/>
<rect x="105" y="369" width="1060" height="1"/>
<rect x="105" y="65" width="1" height="305"/>
<rect x="1164" y="65" width="1" height="305"/>
</g>
<text class="t" x="634.5" y="38.2" text-anchor="middle">Comments per Period(4h)</text>
<text class="l" x="98.3" y="102" text-anchor="end">600</text>
<text class="l" x="98.3" y="149" text-anchor="end">400</text>
<text class="l" x="98.3" y="196" text-anchor="end">200</text>
<text class="l" x="98.3" y="243" text-anchor="end">0</text>
<text class="l" x="98.3" y="290" text-anchor="end">-200</text>
<text class="l" x="98.3" y="337" text-anchor="end">-400</text>
<text class="l" letter-spacing="0.1" transform="translate(188,468) rotate(-90)">2024.05.31</text>
<text class="l" letter-spacing="0.1" transform="translate(287,468) rotate(-90)">2024.06.02</text>
<text class="l" letter-spacing="0.1" transform="translate(385,468) rotate(-90)">2024.06.04</text>
<text class="l" letter-spacing="0.1" transform="translate(484,468) rotate(-90)">2024.06.06</text>
<text class="l" letter-spacing="0.1" transform="translate(582,468) rotate(-90)">2024.06.08</text>
<text class="l" letter-spacing="0.1" transform="translate(681,468) rotate(-90)">2024.06.10</text>
<text class="l" letter-spacing="0.1" transform="translate(779,468) rotate(-90)">2024.06.12</text>
<text class="l" letter-spacing="0.1" transform="translate(878,468) rotate(-90)">2024.06.14</text>
<text class="l" letter-spacing="0.1" transform="translate(976,468) rotate(-90)">2024.06.16</text>
<text class="l" letter-spacing="0.1" transform="translate(1075,468) rotate(-90)">2024.06.18</text>
</svg></body></html>
